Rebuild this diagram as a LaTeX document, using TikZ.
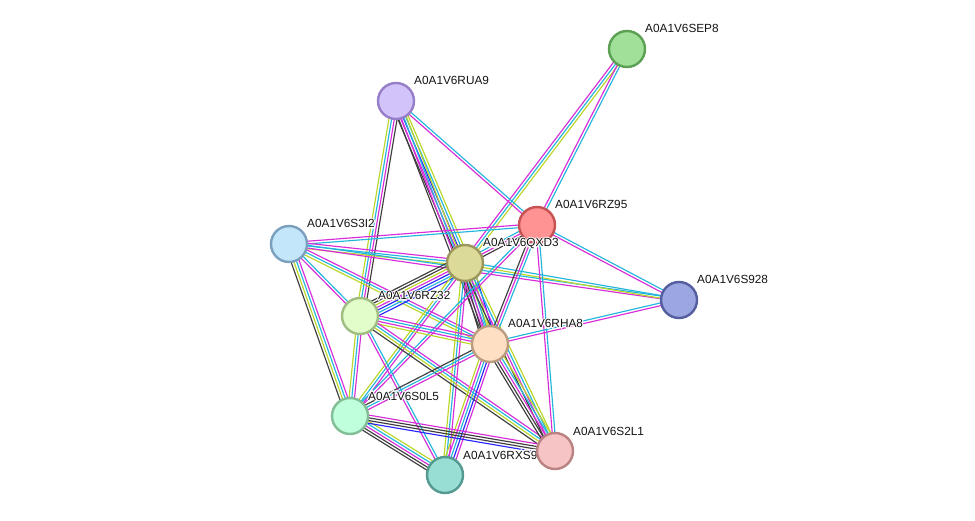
\documentclass[tikz,border=0pt]{standalone}
\usepackage{fontspec}
\setmainfont{Liberation Sans}
\usetikzlibrary{calc}
\pgfdeclarelayer{back}
\pgfdeclarelayer{bg}
\pgfsetlayers{back,bg,main}
\definecolor{cM}{RGB}{216,44,216}
\definecolor{cC}{RGB}{34,182,220}
\definecolor{cY}{RGB}{188,214,40}
\definecolor{cK}{RGB}{62,62,62}
\definecolor{cB}{RGB}{40,40,250}
\tikzset{
  eline/.style={line width=1.15pt},
  em/.style={eline,draw=cM}, ec/.style={eline,draw=cC}, ey/.style={eline,draw=cY},
  ek/.style={eline,draw=cK}, eb/.style={eline,draw=cB},
  pnode/.style={circle, minimum size=36pt, inner sep=0pt, line width=2.4pt},
  lbltxt/.style={font=\fontsize{11.8}{13}\selectfont, inner sep=0pt, anchor=base west},
}
\newcommand\ed[4]{%
  \foreach \c [count=\i] in {#4}{%
    \pgfmathsetmacro\off{(\i-(#3+1)/2)*2.7}%
    \draw[\c] ($(#1)!\off pt!90:(#2)$) -- ($(#2)!\off pt!-90:(#1)$);}}
\newcommand\lbl[2]{%
  \foreach \a in {0,45,...,315}{%
    \node[lbltxt,text=white] (h\a-#1) at ($(#1.center)+(18,-16)+(\a:1.1pt)$) {#2};}
  \node[lbltxt,text={rgb,255:red,20;green,20;blue,20}] (l-#1) at ($(#1.center)+(18,-16)$) {#2};}
\begin{document}
\begin{tikzpicture}[x=1pt,y=-1pt]
\begin{pgfonlayer}{back}
\fill[white] (0,0) rectangle (975,521);
\end{pgfonlayer}
\useasboundingbox (0,0) rectangle (975,521);
\node[pnode,fill={rgb,255:red,160;green,224;blue,152},draw={rgb,255:red,92;green,160;blue,84}] (SEP8) at (627,49) {};
\lbl{SEP8}{A0A1V6SEP8}
\node[pnode,fill={rgb,255:red,210;green,196;blue,250},draw={rgb,255:red,150;green,126;blue,200}] (RUA9) at (396,101) {};
\lbl{RUA9}{A0A1V6RUA9}
\node[pnode,fill={rgb,255:red,255;green,146;blue,146},draw={rgb,255:red,198;green,82;blue,82}] (RZ95) at (537,225) {};
\lbl{RZ95}{A0A1V6RZ95}
\node[pnode,fill={rgb,255:red,196;green,230;blue,250},draw={rgb,255:red,122;green,160;blue,190}] (S3I2) at (289,244) {};
\lbl{S3I2}{A0A1V6S3I2}
\node[pnode,fill={rgb,255:red,220;green,218;blue,152},draw={rgb,255:red,156;green,150;blue,92}] (QXD3) at (465,263) {};
\lbl{QXD3}{A0A1V6QXD3}
\node[pnode,fill={rgb,255:red,156;green,166;blue,224},draw={rgb,255:red,84;green,94;blue,160}] (S928) at (679,300) {};
\lbl{S928}{A0A1V6S928}
\node[pnode,fill={rgb,255:red,226;green,252;blue,202},draw={rgb,255:red,160;green,190;blue,130}] (RZ32) at (360,316) {};
\lbl{RZ32}{A0A1V6RZ32}
\node[pnode,fill={rgb,255:red,255;green,223;blue,196},draw={rgb,255:red,186;green,156;blue,126}] (RHA8) at (490,344) {};
\lbl{RHA8}{A0A1V6RHA8}
\node[pnode,fill={rgb,255:red,192;green,255;blue,220},draw={rgb,255:red,130;green,190;blue,150}] (S0L5) at (350,416) {};
\lbl{S0L5}{A0A1V6S0L5}
\node[pnode,fill={rgb,255:red,152;green,222;blue,212},draw={rgb,255:red,84;green,154;blue,144}] (RXS9) at (445,475) {};
\lbl{RXS9}{A0A1V6RXS9}
\node[pnode,fill={rgb,255:red,246;green,196;blue,196},draw={rgb,255:red,186;green,130;blue,130}] (S2L1) at (555,451) {};
\lbl{S2L1}{A0A1V6S2L1}
\begin{pgfonlayer}{bg}
\ed{SEP8}{QXD3}{3}{em,ec,ey}
\ed{SEP8}{RZ95}{2}{em,ec}
\ed{RUA9}{RZ95}{2}{em,ec}
\ed{RUA9}{QXD3}{5}{ek,em,eb,ec,ey}
\ed{RUA9}{RHA8}{4}{ek,em,ec,ey}
\ed{RUA9}{RZ32}{4}{ey,ec,em,ek}
\ed{S3I2}{RZ95}{2}{ec,em}
\ed{S3I2}{QXD3}{3}{ey,ec,em}
\ed{S3I2}{S928}{2}{em,ec}
\ed{QXD3}{S928}{2}{ey,ec}
\ed{S3I2}{RZ32}{2}{em,ec}
\ed{S3I2}{RHA8}{3}{ey,ec,em}
\ed{S3I2}{S0L5}{4}{ek,ey,ec,em}
\ed{QXD3}{RZ95}{3}{ek,em,ec}
\ed{QXD3}{RZ32}{7}{ek,ek,ey,em,eb,ec,eb}
\ed{QXD3}{RHA8}{6}{ek,ek,em,ec,ey,eb}
\ed{QXD3}{S2L1}{4}{ek,em,ec,ey}
\ed{QXD3}{RXS9}{3}{ey,ec,em}
\ed{QXD3}{S0L5}{3}{ey,ec,em}
\ed{RZ95}{RHA8}{3}{ek,em,ec}
\ed{RZ95}{S0L5}{2}{ec,em}
\ed{RZ95}{S2L1}{2}{em,ec}
\ed{RZ95}{S928}{2}{em,ec}
\ed{RHA8}{S928}{2}{em,ec}
\ed{RZ32}{RHA8}{4}{ey,em,ec,em}
\ed{RZ32}{S2L1}{4}{ek,ey,ec,em}
\ed{RZ32}{S0L5}{3}{ey,ec,em}
\ed{RZ32}{RXS9}{2}{em,ec}
\ed{RHA8}{S0L5}{3}{ek,ec,em}
\ed{RHA8}{RXS9}{5}{ey,em,ec,eb,em}
\ed{RHA8}{S2L1}{5}{ek,ek,em,ec,ey}
\ed{S0L5}{RXS9}{5}{ek,ek,em,ec,ey}
\ed{S0L5}{S2L1}{4}{eb,ek,ek,em}
\end{pgfonlayer}
\end{tikzpicture}
\end{document}
